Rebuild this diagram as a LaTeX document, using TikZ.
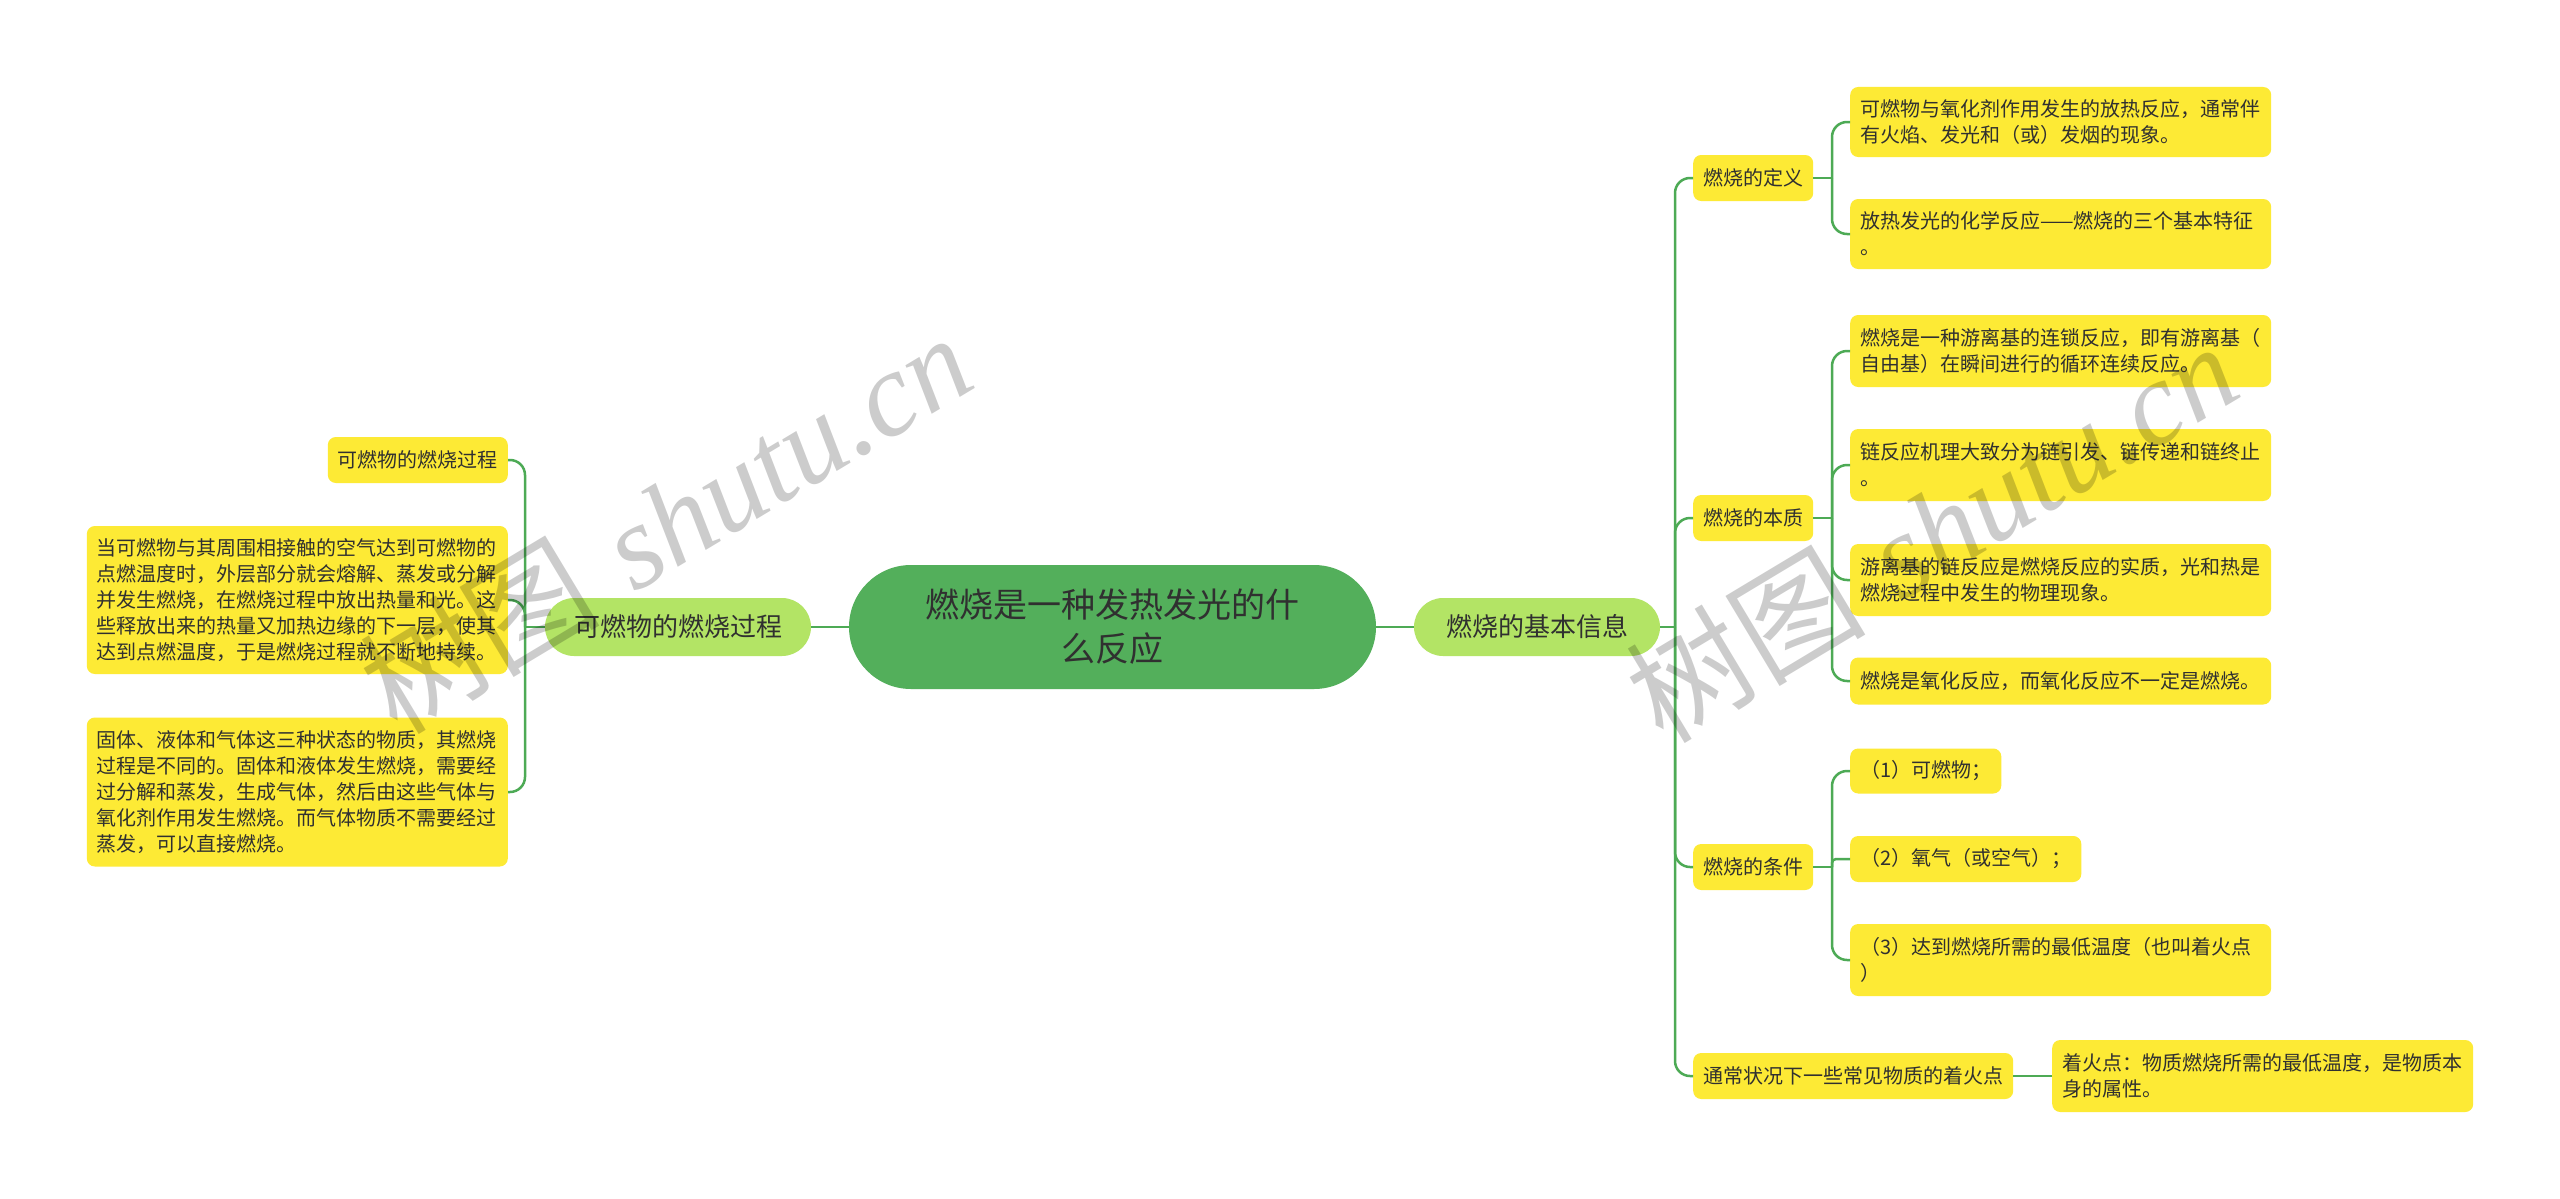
\documentclass[tikz,border=0pt]{standalone}
\usepackage{fontspec}
\newfontfamily\cjk{Noto Sans CJK SC}
\newfontfamily\wmserif{Liberation Serif}
\definecolor{rootgreen}{HTML}{53AF5B}
\definecolor{branchgreen}{HTML}{B3E465}
\definecolor{leafyellow}{HTML}{FDEA35}
\definecolor{linegreen}{HTML}{4DAA55}
\definecolor{textdark}{HTML}{303030}
\begin{document}
\begin{tikzpicture}[x=1pt,y=-1pt,
  every node/.style={text=textdark},
  leaf/.style={fill=leafyellow, rounded corners=8pt, inner xsep=10pt, inner ysep=0pt,
    font=\cjk\fontsize{20}{26}\selectfont, align=left},
  bigleaf/.style={leaf, text width=401pt},
  branch/.style={fill=branchgreen, rounded corners=29pt, inner sep=0pt,
    minimum height=58pt, font=\cjk\fontsize{26}{32}\selectfont},
  rootnode/.style={fill=rootgreen, rounded corners=62pt, inner sep=0pt,
    minimum width=527pt, minimum height=124pt, align=center,
    font=\cjk\fontsize{34}{44}\selectfont},
  link/.style={draw=linegreen, line width=2.5pt, rounded corners=15pt},
  watermark/.style={rotate=31, inner sep=0pt, text=black, text opacity=0.2,
    font=\fontsize{120}{120}\selectfont}
]
\useasboundingbox[fill=white] (0,0) rectangle (2560,1199);

% centre and branches
\node[rootnode] (root) at (1112.5,627) {燃烧是一种发热发光的什\\么反应};
\node[branch, minimum width=266pt] (lb) at (678,627) {可燃物的燃烧过程};
\node[branch, minimum width=246pt] (rb) at (1537,627) {燃烧的基本信息};

% left leaves
\node[leaf, anchor=east, minimum height=46pt] (l1) at (508,460) {可燃物的燃烧过程};
\node[bigleaf, anchor=east, minimum height=148pt] (l2) at (508,600) {当可燃物与其周围相接触的空气达到可燃物的\\点燃温度时，外层部分就会熔解、蒸发或分解\\并发生燃烧，在燃烧过程中放出热量和光。这\\些释放出来的热量又加热边缘的下一层，使其\\达到点燃温度，于是燃烧过程就不断地持续。};
\node[bigleaf, anchor=east, minimum height=149pt] (l3) at (508,792) {固体、液体和气体这三种状态的物质，其燃烧\\过程是不同的。固体和液体发生燃烧，需要经\\过分解和蒸发，生成气体，然后由这些气体与\\氧化剂作用发生燃烧。而气体物质不需要经过\\蒸发，可以直接燃烧。};

% right level two
\node[leaf, anchor=west, minimum height=46pt] (def) at (1693,178) {燃烧的定义};
\node[leaf, anchor=west, minimum height=46pt] (ess) at (1693,518) {燃烧的本质};
\node[leaf, anchor=west, minimum height=46pt] (cond) at (1693,867) {燃烧的条件};
\node[leaf, anchor=west, minimum height=46pt] (ignp) at (1693,1076) {通常状况下一些常见物质的着火点};

% right leaves
\node[bigleaf, anchor=west, minimum height=70pt] (d1) at (1850,122) {可燃物与氧化剂作用发生的放热反应，通常伴\\有火焰、发光和（或）发烟的现象。};
\node[bigleaf, anchor=west, minimum height=70pt] (d2) at (1850,234) {放热发光的化学反应——燃烧的三个基本特征\\。};
\node[bigleaf, anchor=west, minimum height=72pt] (e1) at (1850,351) {燃烧是一种游离基的连锁反应，即有游离基（\\自由基）在瞬间进行的循环连续反应。};
\node[bigleaf, anchor=west, minimum height=72pt] (e2) at (1850,465) {链反应机理大致分为链引发、链传递和链终止\\。};
\node[bigleaf, anchor=west, minimum height=72pt] (e3) at (1850,580) {游离基的链反应是燃烧反应的实质，光和热是\\燃烧过程中发生的物理现象。};
\node[bigleaf, anchor=west, minimum height=47pt] (e4) at (1850,681) {燃烧是氧化反应，而氧化反应不一定是燃烧。};
\node[leaf, anchor=west, minimum height=45pt] (c1) at (1850,771) {（1）可燃物；};
\node[leaf, anchor=west, minimum height=46pt] (c2) at (1850,859) {（2）氧气（或空气）；};
\node[bigleaf, anchor=west, minimum height=72pt] (c3) at (1850,960) {（3）达到燃烧所需的最低温度（也叫着火点\\）};
\node[bigleaf, anchor=west, minimum height=72pt] (il) at (2052,1076) {着火点：物质燃烧所需的最低温度，是物质本\\身的属性。};

% junctions
\coordinate (jl) at (525,627);
\coordinate (jr) at (1675,627);
\coordinate (jd) at (1832,178);
\coordinate (je) at (1832,518);
\coordinate (jc) at (1832,867);

% connectors
\draw[link] (root.west) -- (lb.east);
\draw[link] (root.east) -- (rb.west);
\draw[link] (lb.west) -- (jl);
\draw[link] (jl) |- (l1.east);
\draw[link] (jl) |- (l2.east);
\draw[link] (jl) |- (l3.east);
\draw[link] (rb.east) -- (jr);
\draw[link] (jr) |- (def.west);
\draw[link] (jr) |- (ess.west);
\draw[link] (jr) |- (cond.west);
\draw[link] (jr) |- (ignp.west);
\draw[link] (def.east) -- (jd);
\draw[link] (jd) |- (d1.west);
\draw[link] (jd) |- (d2.west);
\draw[link] (ess.east) -- (je);
\draw[link] (je) |- (e1.west);
\draw[link] (je) |- (e2.west);
\draw[link] (je) |- (e3.west);
\draw[link] (je) |- (e4.west);
\draw[link] (cond.east) -- (jc);
\draw[link] (jc) |- (c1.west);
\draw[link, rounded corners=4pt] (jc) |- (c2.west);
\draw[link] (jc) |- (c3.west);
\draw[link] (ignp.east) -- (il.west);

% watermarks
\node[watermark] (wm1) at (665,522) {{\cjk 树图} {\wmserif\itshape shutu.cn}};
\node[watermark] (wm2) at (1931,531) {{\cjk 树图} {\wmserif\itshape shutu.cn}};
\end{tikzpicture}
\end{document}
